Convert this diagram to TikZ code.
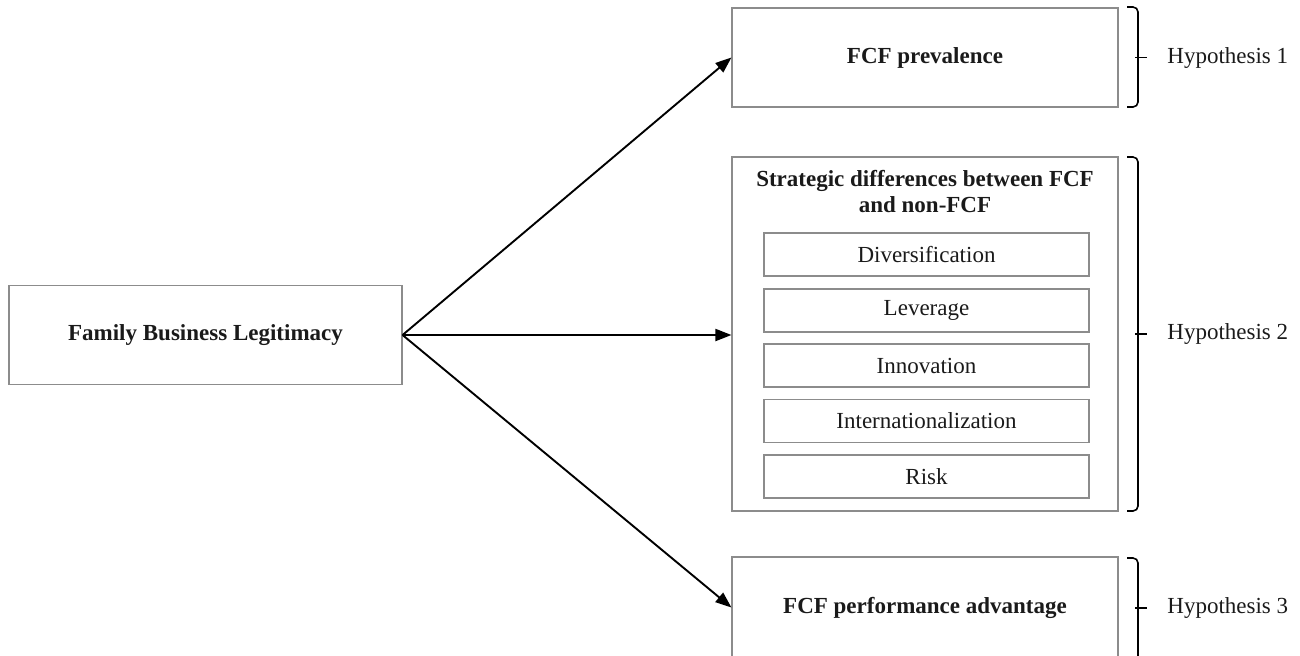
\documentclass[tikz,border=0pt]{standalone}
\usepackage{fontspec}
\setmainfont{Liberation Serif}
\usetikzlibrary{arrows.meta,calc}
\definecolor{boxgray}{HTML}{8C8C8C}
\definecolor{txt}{HTML}{1A1A1A}
\begin{document}
\begin{tikzpicture}[x=0.5pt,y=-0.5pt,
  box/.style={draw=boxgray, line width=0.55pt, inner sep=0pt, align=center, text=txt,
    font=\fontsize{11.5}{13}\selectfont},
  bbox/.style={box, font=\fontsize{11.5}{13}\selectfont\bfseries},
  item/.style={box, minimum width=162.5pt, minimum height=21.5pt},
  ttl/.style={inner sep=0pt, align=center, text=txt, font=\fontsize{11.5}{13}\selectfont\bfseries},
  arr/.style={draw=black, line width=0.95pt, -{Triangle[length=8pt,width=6pt]}},
  brc/.style={draw=black, line width=0.8pt, rounded corners=2.5pt},
  hyp/.style={anchor=west, inner sep=0pt, text=txt, font=\fontsize{11.5}{13}\selectfont}
]
\useasboundingbox (0,0) rectangle (1300,655);

% left node
\node[bbox, minimum width=196.5pt, minimum height=49.5pt] (fbl) at (205.5,335) {Family Business Legitimacy};

% right column
\node[bbox, minimum width=193pt, minimum height=49.5pt] (prev) at (925,57.5) {FCF prevalence};
\node[box, minimum width=193pt, minimum height=177pt] (strat) at (925,334) {};
\node[ttl] (title) at (925,192) {Strategic differences between FCF\\and non-FCF};
\node[item] (div) at (926.5,254.5) {Diversification};
\node[item] (lev) at (926.5,310.5) {Leverage};
\node[item] (inn) at (926.5,365.5) {Innovation};
\node[item] (int) at (926.5,421) {Internationalization};
\node[item] (risk) at (926.5,476.5) {Risk};
\node[bbox, minimum width=193pt, minimum height=50.5pt] (perf) at (925,607.5) {FCF performance advantage};

% arrows
\draw[arr] (fbl.east) -- (prev.west);
\draw[arr] (fbl.east) -- (fbl.east -| strat.west);
\draw[arr] (fbl.east) -- (perf.west);

% braces
\draw[brc] (1127,7) -- (1138,7) -- (1138,107) -- (1127,107);
\draw[brc] (1135,57.5) -- (1147,57.5);
\draw[brc] (1127,157) -- (1138,157) -- (1138,511) -- (1127,511);
\draw[brc] (1135,334) -- (1147,334);
\draw[brc] (1127,558) -- (1138,558) -- (1138,670);
\draw[brc] (1135,608) -- (1147,608);

% hypotheses
\node[hyp] (h1) at (1167,57.5) {Hypothesis 1};
\node[hyp] (h2) at (1167,334) {Hypothesis 2};
\node[hyp] (h3) at (1167,608) {Hypothesis 3};
\end{tikzpicture}
\end{document}
